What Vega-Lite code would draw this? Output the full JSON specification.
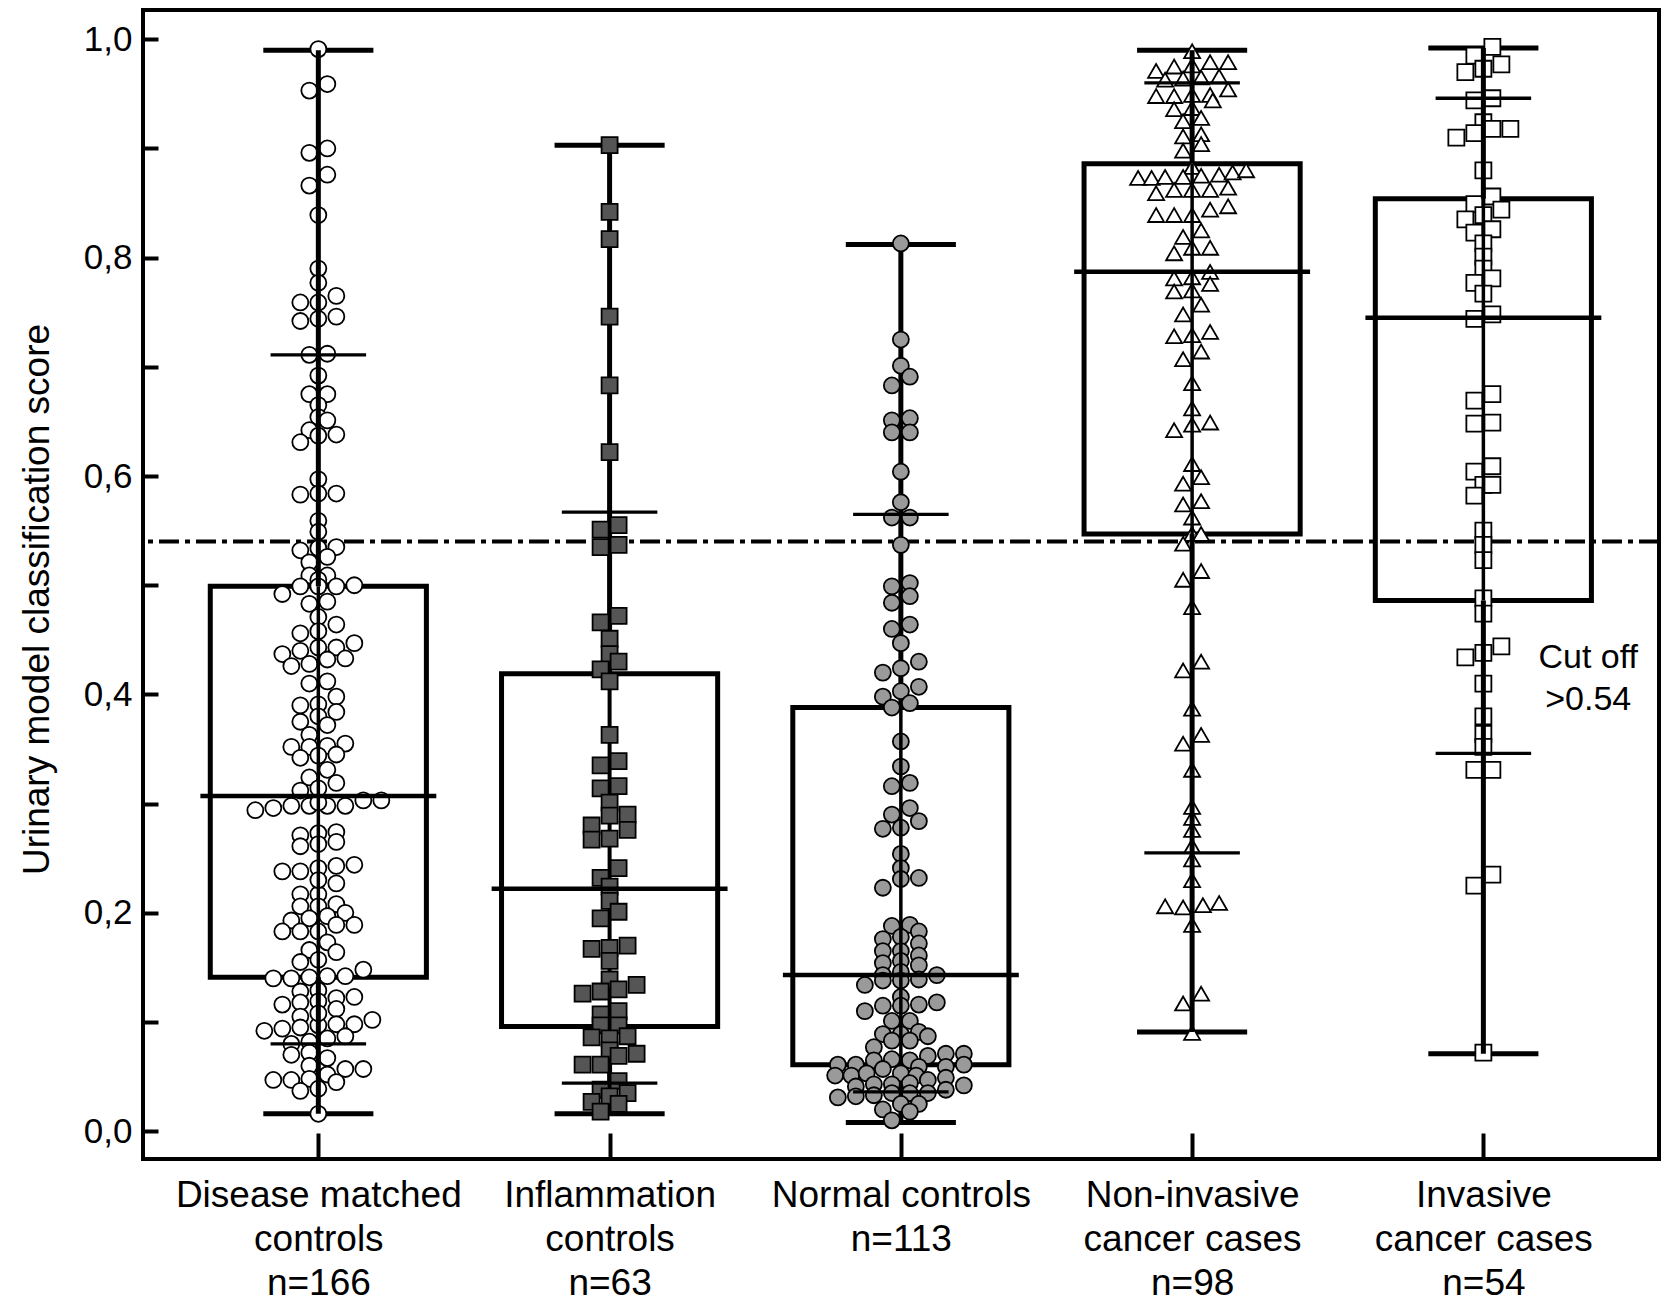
{
"$schema":"https://vega.github.io/schema/vega-lite/v6.json",
"width":1516,"height":1149,
"autosize":{"type":"none"},
"padding":{"left":143,"top":10,"right":6,"bottom":144},
"background":"white",
"config":{"view":{"stroke":"black","strokeWidth":4},"axis":{"domain":false,"grid":false,"tickColor":"black","labelColor":"black","titleColor":"black","labelFont":"Liberation Sans","titleFont":"Liberation Sans"}},
"datasets":{
"stats":[
{"grp":1,"lo":0.016,"p10":0.080,"q1":0.141,"med":0.307,"q3":0.499,"p90":0.711,"hi":0.990},
{"grp":2,"lo":0.016,"p10":0.044,"q1":0.096,"med":0.222,"q3":0.419,"p90":0.567,"hi":0.903},
{"grp":3,"lo":0.008,"p10":0.036,"q1":0.061,"med":0.143,"q3":0.388,"p90":0.565,"hi":0.812},
{"grp":4,"lo":0.091,"p10":0.255,"q1":0.547,"med":0.787,"q3":0.886,"p90":0.960,"hi":0.990},
{"grp":5,"lo":0.071,"p10":0.346,"q1":0.486,"med":0.745,"q3":0.854,"p90":0.946,"hi":0.992}
],
"pts":[
{"grp":1,"v":0.991,"j":0},{"grp":1,"v":0.953,"j":-1},{"grp":1,"v":0.959,"j":1},{"grp":1,"v":0.896,"j":-1},{"grp":1,"v":0.900,"j":1},{"grp":1,"v":0.866,"j":-1},{"grp":1,"v":0.876,"j":1},{"grp":1,"v":0.839,"j":0},{"grp":1,"v":0.790,"j":0},{"grp":1,"v":0.777,"j":0},
{"grp":1,"v":0.759,"j":-2},{"grp":1,"v":0.759,"j":0},{"grp":1,"v":0.765,"j":2},{"grp":1,"v":0.742,"j":-2},{"grp":1,"v":0.744,"j":0},{"grp":1,"v":0.746,"j":2},{"grp":1,"v":0.711,"j":-1},{"grp":1,"v":0.712,"j":1},{"grp":1,"v":0.692,"j":0},{"grp":1,"v":0.675,"j":-1},
{"grp":1,"v":0.675,"j":1},{"grp":1,"v":0.665,"j":0},{"grp":1,"v":0.654,"j":0},{"grp":1,"v":0.651,"j":1},{"grp":1,"v":0.642,"j":-1},{"grp":1,"v":0.637,"j":0},{"grp":1,"v":0.638,"j":2},{"grp":1,"v":0.631,"j":-2},{"grp":1,"v":0.597,"j":0},{"grp":1,"v":0.583,"j":-2},
{"grp":1,"v":0.584,"j":0},{"grp":1,"v":0.584,"j":2},{"grp":1,"v":0.559,"j":0},{"grp":1,"v":0.549,"j":0},{"grp":1,"v":0.532,"j":-2},{"grp":1,"v":0.534,"j":0},{"grp":1,"v":0.535,"j":2},{"grp":1,"v":0.526,"j":1},{"grp":1,"v":0.521,"j":-1},{"grp":1,"v":0.509,"j":-1},
{"grp":1,"v":0.509,"j":1},{"grp":1,"v":0.505,"j":0},{"grp":1,"v":0.492,"j":-4},{"grp":1,"v":0.499,"j":-2},{"grp":1,"v":0.499,"j":0},{"grp":1,"v":0.499,"j":2},{"grp":1,"v":0.500,"j":4},{"grp":1,"v":0.483,"j":-1},{"grp":1,"v":0.485,"j":1},{"grp":1,"v":0.471,"j":0},
{"grp":1,"v":0.464,"j":2},{"grp":1,"v":0.456,"j":-2},{"grp":1,"v":0.458,"j":0},{"grp":1,"v":0.437,"j":-4},{"grp":1,"v":0.440,"j":-2},{"grp":1,"v":0.443,"j":0},{"grp":1,"v":0.443,"j":2},{"grp":1,"v":0.447,"j":4},{"grp":1,"v":0.426,"j":-3},{"grp":1,"v":0.428,"j":-1},
{"grp":1,"v":0.432,"j":1},{"grp":1,"v":0.433,"j":3},{"grp":1,"v":0.410,"j":-1},{"grp":1,"v":0.412,"j":1},{"grp":1,"v":0.398,"j":2},{"grp":1,"v":0.390,"j":-2},{"grp":1,"v":0.391,"j":0},{"grp":1,"v":0.384,"j":2},{"grp":1,"v":0.375,"j":-2},{"grp":1,"v":0.380,"j":0},
{"grp":1,"v":0.372,"j":1},{"grp":1,"v":0.363,"j":-1},{"grp":1,"v":0.352,"j":-3},{"grp":1,"v":0.352,"j":-1},{"grp":1,"v":0.353,"j":1},{"grp":1,"v":0.355,"j":3},{"grp":1,"v":0.342,"j":-2},{"grp":1,"v":0.344,"j":0},{"grp":1,"v":0.345,"j":2},{"grp":1,"v":0.331,"j":1},
{"grp":1,"v":0.324,"j":-1},{"grp":1,"v":0.319,"j":2},{"grp":1,"v":0.312,"j":-2},{"grp":1,"v":0.314,"j":0},{"grp":1,"v":0.294,"j":-7},{"grp":1,"v":0.296,"j":-5},{"grp":1,"v":0.298,"j":-3},{"grp":1,"v":0.298,"j":-1},{"grp":1,"v":0.298,"j":1},{"grp":1,"v":0.298,"j":3},
{"grp":1,"v":0.303,"j":5},{"grp":1,"v":0.303,"j":7},{"grp":1,"v":0.271,"j":-2},{"grp":1,"v":0.273,"j":0},{"grp":1,"v":0.274,"j":2},{"grp":1,"v":0.261,"j":-2},{"grp":1,"v":0.263,"j":0},{"grp":1,"v":0.265,"j":2},{"grp":1,"v":0.238,"j":-4},{"grp":1,"v":0.238,"j":-2},
{"grp":1,"v":0.241,"j":0},{"grp":1,"v":0.243,"j":2},{"grp":1,"v":0.244,"j":4},{"grp":1,"v":0.227,"j":2},{"grp":1,"v":0.217,"j":-2},{"grp":1,"v":0.217,"j":0},{"grp":1,"v":0.206,"j":-2},{"grp":1,"v":0.206,"j":0},{"grp":1,"v":0.208,"j":2},{"grp":1,"v":0.193,"j":-3},
{"grp":1,"v":0.195,"j":-1},{"grp":1,"v":0.197,"j":1},{"grp":1,"v":0.200,"j":3},{"grp":1,"v":0.183,"j":-4},{"grp":1,"v":0.183,"j":-2},{"grp":1,"v":0.183,"j":0},{"grp":1,"v":0.189,"j":2},{"grp":1,"v":0.189,"j":4},{"grp":1,"v":0.173,"j":1},{"grp":1,"v":0.164,"j":2},
{"grp":1,"v":0.166,"j":-1},{"grp":1,"v":0.155,"j":-2},{"grp":1,"v":0.157,"j":0},{"grp":1,"v":0.140,"j":-5},{"grp":1,"v":0.140,"j":-3},{"grp":1,"v":0.141,"j":-1},{"grp":1,"v":0.142,"j":1},{"grp":1,"v":0.142,"j":3},{"grp":1,"v":0.148,"j":5},{"grp":1,"v":0.128,"j":-2},
{"grp":1,"v":0.129,"j":0},{"grp":1,"v":0.122,"j":2},{"grp":1,"v":0.123,"j":4},{"grp":1,"v":0.116,"j":-4},{"grp":1,"v":0.118,"j":-2},{"grp":1,"v":0.119,"j":0},{"grp":1,"v":0.112,"j":2},{"grp":1,"v":0.105,"j":-2},{"grp":1,"v":0.102,"j":6},{"grp":1,"v":0.092,"j":-6},
{"grp":1,"v":0.094,"j":-4},{"grp":1,"v":0.095,"j":-2},{"grp":1,"v":0.097,"j":0},{"grp":1,"v":0.098,"j":2},{"grp":1,"v":0.098,"j":4},{"grp":1,"v":0.080,"j":-3},{"grp":1,"v":0.082,"j":-1},{"grp":1,"v":0.085,"j":1},{"grp":1,"v":0.087,"j":3},{"grp":1,"v":0.070,"j":-3},
{"grp":1,"v":0.072,"j":-1},{"grp":1,"v":0.067,"j":1},{"grp":1,"v":0.060,"j":-1},{"grp":1,"v":0.057,"j":3},{"grp":1,"v":0.057,"j":5},{"grp":1,"v":0.047,"j":-5},{"grp":1,"v":0.047,"j":-3},{"grp":1,"v":0.048,"j":-1},{"grp":1,"v":0.052,"j":1},{"grp":1,"v":0.045,"j":2},
{"grp":1,"v":0.037,"j":-2},{"grp":1,"v":0.039,"j":0},{"grp":1,"v":0.016,"j":0},{"grp":1,"v":0.301,"j":0},{"grp":1,"v":0.230,"j":0},{"grp":1,"v":0.108,"j":0},
{"grp":2,"v":0.903,"j":0},{"grp":2,"v":0.842,"j":0},{"grp":2,"v":0.817,"j":0},{"grp":2,"v":0.746,"j":0},{"grp":2,"v":0.683,"j":0},{"grp":2,"v":0.622,"j":0},{"grp":2,"v":0.551,"j":-1},{"grp":2,"v":0.555,"j":1},{"grp":2,"v":0.535,"j":-1},{"grp":2,"v":0.537,"j":1},
{"grp":2,"v":0.472,"j":1},{"grp":2,"v":0.466,"j":-1},{"grp":2,"v":0.451,"j":0},{"grp":2,"v":0.437,"j":0},{"grp":2,"v":0.430,"j":1},{"grp":2,"v":0.423,"j":-1},{"grp":2,"v":0.412,"j":0},{"grp":2,"v":0.363,"j":0},{"grp":2,"v":0.339,"j":1},{"grp":2,"v":0.335,"j":-1},
{"grp":2,"v":0.316,"j":1},{"grp":2,"v":0.314,"j":-1},{"grp":2,"v":0.301,"j":0},{"grp":2,"v":0.289,"j":0},{"grp":2,"v":0.290,"j":2},{"grp":2,"v":0.276,"j":2},{"grp":2,"v":0.280,"j":-2},{"grp":2,"v":0.267,"j":-2},{"grp":2,"v":0.268,"j":0},{"grp":2,"v":0.241,"j":1},
{"grp":2,"v":0.232,"j":-1},{"grp":2,"v":0.224,"j":0},{"grp":2,"v":0.211,"j":0},{"grp":2,"v":0.201,"j":1},{"grp":2,"v":0.195,"j":-1},{"grp":2,"v":0.167,"j":-2},{"grp":2,"v":0.168,"j":0},{"grp":2,"v":0.170,"j":2},{"grp":2,"v":0.156,"j":0},{"grp":2,"v":0.139,"j":0},
{"grp":2,"v":0.126,"j":-3},{"grp":2,"v":0.128,"j":-1},{"grp":2,"v":0.130,"j":1},{"grp":2,"v":0.134,"j":3},{"grp":2,"v":0.107,"j":-1},{"grp":2,"v":0.110,"j":1},{"grp":2,"v":0.097,"j":-1},{"grp":2,"v":0.097,"j":1},{"grp":2,"v":0.086,"j":-2},{"grp":2,"v":0.085,"j":0},
{"grp":2,"v":0.087,"j":2},{"grp":2,"v":0.074,"j":0},{"grp":2,"v":0.069,"j":1},{"grp":2,"v":0.071,"j":3},{"grp":2,"v":0.061,"j":-3},{"grp":2,"v":0.061,"j":-1},{"grp":2,"v":0.046,"j":1},{"grp":2,"v":0.038,"j":-1},{"grp":2,"v":0.035,"j":2},{"grp":2,"v":0.027,"j":-2},
{"grp":2,"v":0.032,"j":0},{"grp":2,"v":0.025,"j":1},{"grp":2,"v":0.018,"j":-1},
{"grp":3,"v":0.813,"j":0},{"grp":3,"v":0.725,"j":0},{"grp":3,"v":0.701,"j":0},{"grp":3,"v":0.691,"j":1},{"grp":3,"v":0.683,"j":-1},{"grp":3,"v":0.651,"j":-1},{"grp":3,"v":0.653,"j":1},{"grp":3,"v":0.640,"j":-1},{"grp":3,"v":0.640,"j":1},{"grp":3,"v":0.604,"j":0},
{"grp":3,"v":0.576,"j":0},{"grp":3,"v":0.562,"j":-1},{"grp":3,"v":0.562,"j":1},{"grp":3,"v":0.537,"j":0},{"grp":3,"v":0.499,"j":-1},{"grp":3,"v":0.502,"j":1},{"grp":3,"v":0.484,"j":-1},{"grp":3,"v":0.490,"j":1},
{"grp":3,"v":0.460,"j":-1},{"grp":3,"v":0.464,"j":1},{"grp":3,"v":0.447,"j":0},{"grp":3,"v":0.430,"j":2},{"grp":3,"v":0.424,"j":0},{"grp":3,"v":0.420,"j":-2},{"grp":3,"v":0.407,"j":2},{"grp":3,"v":0.403,"j":0},{"grp":3,"v":0.398,"j":-2},{"grp":3,"v":0.388,"j":-1},
{"grp":3,"v":0.392,"j":1},{"grp":3,"v":0.357,"j":0},{"grp":3,"v":0.334,"j":0},{"grp":3,"v":0.316,"j":-1},{"grp":3,"v":0.319,"j":1},{"grp":3,"v":0.296,"j":1},{"grp":3,"v":0.290,"j":-1},{"grp":3,"v":0.284,"j":2},{"grp":3,"v":0.277,"j":-2},{"grp":3,"v":0.278,"j":0},
{"grp":3,"v":0.254,"j":0},{"grp":3,"v":0.241,"j":0},{"grp":3,"v":0.231,"j":0},{"grp":3,"v":0.232,"j":2},{"grp":3,"v":0.223,"j":-2},
{"grp":3,"v":0.188,"j":-1},{"grp":3,"v":0.189,"j":1},{"grp":3,"v":0.183,"j":2},{"grp":3,"v":0.176,"j":-2},{"grp":3,"v":0.178,"j":0},{"grp":3,"v":0.172,"j":2},{"grp":3,"v":0.165,"j":-2},{"grp":3,"v":0.165,"j":0},{"grp":3,"v":0.161,"j":2},{"grp":3,"v":0.156,"j":0},
{"grp":3,"v":0.154,"j":-2},{"grp":3,"v":0.152,"j":2},{"grp":3,"v":0.143,"j":-2},{"grp":3,"v":0.146,"j":0},{"grp":3,"v":0.143,"j":4},{"grp":3,"v":0.134,"j":-4},{"grp":3,"v":0.138,"j":-2},{"grp":3,"v":0.138,"j":0},{"grp":3,"v":0.139,"j":2},{"grp":3,"v":0.123,"j":0},
{"grp":3,"v":0.115,"j":0},{"grp":3,"v":0.110,"j":-4},{"grp":3,"v":0.115,"j":-2},{"grp":3,"v":0.116,"j":2},{"grp":3,"v":0.118,"j":4},
{"grp":3,"v":0.101,"j":-1},{"grp":3,"v":0.101,"j":1},{"grp":3,"v":0.089,"j":-2},{"grp":3,"v":0.089,"j":0},{"grp":3,"v":0.091,"j":2},{"grp":3,"v":0.087,"j":3},{"grp":3,"v":0.083,"j":-1},{"grp":3,"v":0.083,"j":1},{"grp":3,"v":0.077,"j":-3},{"grp":3,"v":0.065,"j":-3},
{"grp":3,"v":0.066,"j":-1},{"grp":3,"v":0.065,"j":1},{"grp":3,"v":0.069,"j":3},{"grp":3,"v":0.071,"j":5},{"grp":3,"v":0.071,"j":7},{"grp":3,"v":0.061,"j":-7},{"grp":3,"v":0.061,"j":-5},{"grp":3,"v":0.057,"j":-2},{"grp":3,"v":0.059,"j":2},{"grp":3,"v":0.059,"j":5},
{"grp":3,"v":0.061,"j":7},{"grp":3,"v":0.051,"j":-7.3},{"grp":3,"v":0.051,"j":-5.5},{"grp":3,"v":0.053,"j":-3.8},{"grp":3,"v":0.053,"j":0},{"grp":3,"v":0.051,"j":1.7},{"grp":3,"v":0.041,"j":-5},{"grp":3,"v":0.043,"j":-3},{"grp":3,"v":0.043,"j":-1},{"grp":3,"v":0.044,"j":1},
{"grp":3,"v":0.047,"j":3},{"grp":3,"v":0.049,"j":5},{"grp":3,"v":0.042,"j":7},{"grp":3,"v":0.031,"j":-7},{"grp":3,"v":0.032,"j":-5},{"grp":3,"v":0.033,"j":-3},{"grp":3,"v":0.035,"j":-1},{"grp":3,"v":0.035,"j":1},{"grp":3,"v":0.035,"j":3},{"grp":3,"v":0.038,"j":5},
{"grp":3,"v":0.025,"j":0},{"grp":3,"v":0.020,"j":-2},{"grp":3,"v":0.025,"j":2},{"grp":3,"v":0.018,"j":1},{"grp":3,"v":0.010,"j":-1},
{"grp":4,"v":0.989,"j":0},{"grp":4,"v":0.971,"j":-4},{"grp":4,"v":0.975,"j":-2},{"grp":4,"v":0.976,"j":0},{"grp":4,"v":0.979,"j":2},{"grp":4,"v":0.979,"j":4},{"grp":4,"v":0.963,"j":-3},{"grp":4,"v":0.964,"j":-1},{"grp":4,"v":0.965,"j":1},{"grp":4,"v":0.966,"j":3},
{"grp":4,"v":0.948,"j":-4},{"grp":4,"v":0.948,"j":-2},{"grp":4,"v":0.949,"j":0},{"grp":4,"v":0.949,"j":2},{"grp":4,"v":0.954,"j":4},{"grp":4,"v":0.944,"j":2.3},{"grp":4,"v":0.936,"j":-2},{"grp":4,"v":0.937,"j":0},{"grp":4,"v":0.925,"j":-1},{"grp":4,"v":0.928,"j":1},
{"grp":4,"v":0.911,"j":-1},{"grp":4,"v":0.913,"j":1},{"grp":4,"v":0.898,"j":-1},{"grp":4,"v":0.904,"j":1},{"grp":4,"v":0.883,"j":0},{"grp":4,"v":0.873,"j":-6},{"grp":4,"v":0.873,"j":-4.5},{"grp":4,"v":0.874,"j":-3},{"grp":4,"v":0.874,"j":-1},{"grp":4,"v":0.875,"j":1},
{"grp":4,"v":0.876,"j":3},{"grp":4,"v":0.878,"j":4.5},{"grp":4,"v":0.880,"j":6},{"grp":4,"v":0.859,"j":-4},{"grp":4,"v":0.862,"j":-2},{"grp":4,"v":0.862,"j":0},{"grp":4,"v":0.862,"j":2},{"grp":4,"v":0.864,"j":4},{"grp":4,"v":0.839,"j":-4},{"grp":4,"v":0.839,"j":-2},
{"grp":4,"v":0.839,"j":0},{"grp":4,"v":0.844,"j":2},{"grp":4,"v":0.847,"j":4},{"grp":4,"v":0.825,"j":1},{"grp":4,"v":0.819,"j":-1},{"grp":4,"v":0.809,"j":2},{"grp":4,"v":0.809,"j":0},{"grp":4,"v":0.804,"j":-2},{"grp":4,"v":0.787,"j":2},{"grp":4,"v":0.781,"j":-2},
{"grp":4,"v":0.782,"j":0},{"grp":4,"v":0.776,"j":2},{"grp":4,"v":0.769,"j":-2},{"grp":4,"v":0.770,"j":0},{"grp":4,"v":0.757,"j":1},{"grp":4,"v":0.748,"j":-1},{"grp":4,"v":0.728,"j":-2},{"grp":4,"v":0.729,"j":0},{"grp":4,"v":0.732,"j":2},{"grp":4,"v":0.714,"j":1},
{"grp":4,"v":0.707,"j":-1},{"grp":4,"v":0.685,"j":0},{"grp":4,"v":0.662,"j":0},{"grp":4,"v":0.642,"j":-2},{"grp":4,"v":0.647,"j":0},{"grp":4,"v":0.649,"j":2},{"grp":4,"v":0.611,"j":0},{"grp":4,"v":0.593,"j":-1},{"grp":4,"v":0.599,"j":1},{"grp":4,"v":0.574,"j":-1},
{"grp":4,"v":0.577,"j":1},{"grp":4,"v":0.562,"j":0},{"grp":4,"v":0.547,"j":0},{"grp":4,"v":0.547,"j":1},{"grp":4,"v":0.538,"j":-1},{"grp":4,"v":0.505,"j":-1},{"grp":4,"v":0.513,"j":1},{"grp":4,"v":0.480,"j":0},
{"grp":4,"v":0.422,"j":-1},{"grp":4,"v":0.430,"j":1},{"grp":4,"v":0.387,"j":0},{"grp":4,"v":0.355,"j":-1},{"grp":4,"v":0.363,"j":1},{"grp":4,"v":0.331,"j":0},{"grp":4,"v":0.297,"j":0},{"grp":4,"v":0.287,"j":0},{"grp":4,"v":0.276,"j":0},{"grp":4,"v":0.261,"j":0},
{"grp":4,"v":0.249,"j":0},{"grp":4,"v":0.230,"j":0},{"grp":4,"v":0.206,"j":-3},{"grp":4,"v":0.205,"j":-1},{"grp":4,"v":0.207,"j":1.2},{"grp":4,"v":0.209,"j":3},{"grp":4,"v":0.189,"j":0},{"grp":4,"v":0.117,"j":-1},{"grp":4,"v":0.126,"j":1},{"grp":4,"v":0.090,"j":0},
{"grp":5,"v":0.993,"j":1},{"grp":5,"v":0.985,"j":-1},{"grp":5,"v":0.977,"j":2},{"grp":5,"v":0.970,"j":-2},{"grp":5,"v":0.973,"j":0},{"grp":5,"v":0.944,"j":-1},{"grp":5,"v":0.946,"j":1},{"grp":5,"v":0.924,"j":0},{"grp":5,"v":0.910,"j":-3},{"grp":5,"v":0.914,"j":-1},
{"grp":5,"v":0.918,"j":1},{"grp":5,"v":0.918,"j":3},{"grp":5,"v":0.880,"j":0},{"grp":5,"v":0.856,"j":1},{"grp":5,"v":0.849,"j":-1},{"grp":5,"v":0.844,"j":2},{"grp":5,"v":0.839,"j":0},{"grp":5,"v":0.835,"j":-2},{"grp":5,"v":0.826,"j":1},{"grp":5,"v":0.823,"j":-1},
{"grp":5,"v":0.813,"j":0},{"grp":5,"v":0.801,"j":0},{"grp":5,"v":0.790,"j":0},{"grp":5,"v":0.777,"j":-1},{"grp":5,"v":0.781,"j":1},{"grp":5,"v":0.767,"j":0},{"grp":5,"v":0.744,"j":-1},{"grp":5,"v":0.748,"j":1},{"grp":5,"v":0.669,"j":-1},{"grp":5,"v":0.675,"j":1},
{"grp":5,"v":0.648,"j":-1},{"grp":5,"v":0.649,"j":1},{"grp":5,"v":0.604,"j":-1},{"grp":5,"v":0.609,"j":1},{"grp":5,"v":0.592,"j":0},{"grp":5,"v":0.592,"j":1},{"grp":5,"v":0.582,"j":-1},{"grp":5,"v":0.550,"j":0},{"grp":5,"v":0.537,"j":0},{"grp":5,"v":0.523,"j":0},
{"grp":5,"v":0.488,"j":0},{"grp":5,"v":0.474,"j":0},{"grp":5,"v":0.434,"j":-2},{"grp":5,"v":0.438,"j":0},{"grp":5,"v":0.444,"j":2},{"grp":5,"v":0.410,"j":0},{"grp":5,"v":0.380,"j":0},{"grp":5,"v":0.364,"j":0},{"grp":5,"v":0.352,"j":0},{"grp":5,"v":0.331,"j":-1},
{"grp":5,"v":0.331,"j":1},{"grp":5,"v":0.225,"j":-1},{"grp":5,"v":0.235,"j":1},{"grp":5,"v":0.072,"j":0}
]
},
"layer":[
{"data":{"values":[{"c":0.54}]},
 "mark":{"type":"rule","color":"black","strokeWidth":4,"strokeDash":[20,6,5,6]},
 "encoding":{"y":{"field":"c","type":"quantitative"}}},
{"data":{"name":"stats"},
 "transform":[{"calculate":"datum.grp - 0.371","as":"bx1"},{"calculate":"datum.grp + 0.371","as":"bx2"}],
 "mark":{"type":"rect","filled":false,"color":"black","strokeWidth":5},
 "encoding":{"x":{"field":"bx1","type":"quantitative"},"x2":{"field":"bx2"},"y":{"field":"q1","type":"quantitative"},"y2":{"field":"q3"}}},
{"data":{"name":"stats"},
 "transform":[{"fold":["lo","hi"],"as":["k","val"]},{"calculate":"datum.grp - 0.189","as":"cx1"},{"calculate":"datum.grp + 0.189","as":"cx2"}],
 "mark":{"type":"rule","color":"black","strokeWidth":5},
 "encoding":{"x":{"field":"cx1","type":"quantitative"},"x2":{"field":"cx2"},"y":{"field":"val","type":"quantitative"}}},
{"data":{"name":"stats"},
 "transform":[{"filter":"datum.grp == 2 || datum.grp == 3"}],
 "mark":{"type":"rule","color":"black","strokeWidth":5},
 "encoding":{"x":{"field":"grp","type":"quantitative"},"y":{"field":"lo","type":"quantitative"},"y2":{"field":"q1"}}},
{"data":{"name":"stats"},
 "transform":[{"filter":"datum.grp == 2 || datum.grp == 3"}],
 "mark":{"type":"rule","color":"black","strokeWidth":5},
 "encoding":{"x":{"field":"grp","type":"quantitative"},"y":{"field":"q3","type":"quantitative"},"y2":{"field":"hi"}}},
{"data":{"name":"stats"},
 "transform":[{"filter":"datum.grp == 2"}],
 "mark":{"type":"rule","color":"black","strokeWidth":4},
 "encoding":{"x":{"field":"grp","type":"quantitative"},"y":{"field":"q1","type":"quantitative"},"y2":{"field":"q3"}}},
{"data":{"name":"pts"},
 "transform":[{"calculate":"datum.grp + datum.j*0.0309","as":"x"}],
 "mark":{"type":"point","filled":true,"stroke":"black","strokeWidth":1.8,"opacity":1,"fillOpacity":1},
 "encoding":{
  "x":{"field":"x","type":"quantitative","scale":{"domain":[0.398,5.603],"nice":false,"zero":false},
       "axis":{"title":null,"values":[1,2,3,4,5],"labelExpr":"datum.value == 1 ? ['Disease matched','controls','n=166'] : datum.value == 2 ? ['Inflammation','controls','n=63'] : datum.value == 3 ? ['Normal controls','n=113'] : datum.value == 4 ? ['Non-invasive','cancer cases','n=98'] : ['Invasive','cancer cases','n=54']",
               "tickSize":-26,"tickWidth":4,"labelFontSize":37,"labelLineHeight":44,"labelPadding":44,"labelBaseline":"top","labelFlush":false,"labelOverlap":false,"labelLimit":0}},
  "y":{"field":"v","type":"quantitative","scale":{"domain":[-0.0254,1.0268],"nice":false,"zero":false},
       "axis":{"title":"Urinary model classification score","values":[0,0.1,0.2,0.3,0.4,0.5,0.6,0.7,0.8,0.9,1.0],
               "labelExpr":"round(datum.value*10) % 2 == 0 ? replace(format(datum.value,'.1f'),'.',',') : ''",
               "tickSize":-15,"tickWidth":4,"labelFontSize":35,"labelPadding":26,"labelFlush":false,"labelOverlap":false,
               "titleFontSize":37,"titleFontWeight":"normal","titleX":-106,"titleY":589,"titleAngle":270,"titleAlign":"center","titleBaseline":"middle"}},
  "shape":{"field":"grp","type":"nominal","scale":{"domain":[1,2,3,4,5],"range":["circle","square","circle","triangle-up","square"]},"legend":null},
  "fill":{"field":"grp","type":"nominal","scale":{"domain":[1,2,3,4,5],"range":["#ffffff","#555555","#9a9a9a","#ffffff","#ffffff"]},"legend":null},
  "size":{"field":"grp","type":"ordinal","scale":{"domain":[1,2,3,4,5],"range":[256,256,278,320,225]},"legend":null}
 }},
{"data":{"name":"stats"},
 "transform":[{"filter":"datum.grp != 2 && datum.grp != 3"}],
 "mark":{"type":"rule","color":"black","strokeWidth":5},
 "encoding":{"x":{"field":"grp","type":"quantitative"},"y":{"field":"lo","type":"quantitative"},"y2":{"field":"q1"}}},
{"data":{"name":"stats"},
 "transform":[{"filter":"datum.grp != 2 && datum.grp != 3"}],
 "mark":{"type":"rule","color":"black","strokeWidth":5},
 "encoding":{"x":{"field":"grp","type":"quantitative"},"y":{"field":"q3","type":"quantitative"},"y2":{"field":"hi"}}},
{"data":{"name":"stats"},
 "transform":[{"filter":"datum.grp != 2"}],
 "mark":{"type":"rule","color":"black","strokeWidth":3.5},
 "encoding":{"x":{"field":"grp","type":"quantitative"},"y":{"field":"q1","type":"quantitative"},"y2":{"field":"q3"}}},
{"data":{"name":"stats"},
 "transform":[{"calculate":"datum.grp - 0.405","as":"mx1"},{"calculate":"datum.grp + 0.405","as":"mx2"}],
 "mark":{"type":"rule","color":"black","strokeWidth":4.5},
 "encoding":{"x":{"field":"mx1","type":"quantitative"},"x2":{"field":"mx2"},"y":{"field":"med","type":"quantitative"}}},
{"data":{"name":"stats"},
 "transform":[{"fold":["p10","p90"],"as":["k","val"]},{"calculate":"datum.grp - 0.164","as":"px1"},{"calculate":"datum.grp + 0.164","as":"px2"}],
 "mark":{"type":"rule","color":"black","strokeWidth":3.3},
 "encoding":{"x":{"field":"px1","type":"quantitative"},"x2":{"field":"px2"},"y":{"field":"val","type":"quantitative"}}},
{"data":{"values":[{"tx":5.36,"ty":0.4334}]},
 "mark":{"type":"text","text":["Cut off",">0.54"],"font":"Liberation Sans","fontSize":34,"lineHeight":42,"align":"center","baseline":"middle","color":"black"},
 "encoding":{"x":{"field":"tx","type":"quantitative"},"y":{"field":"ty","type":"quantitative"}}}
]
}
